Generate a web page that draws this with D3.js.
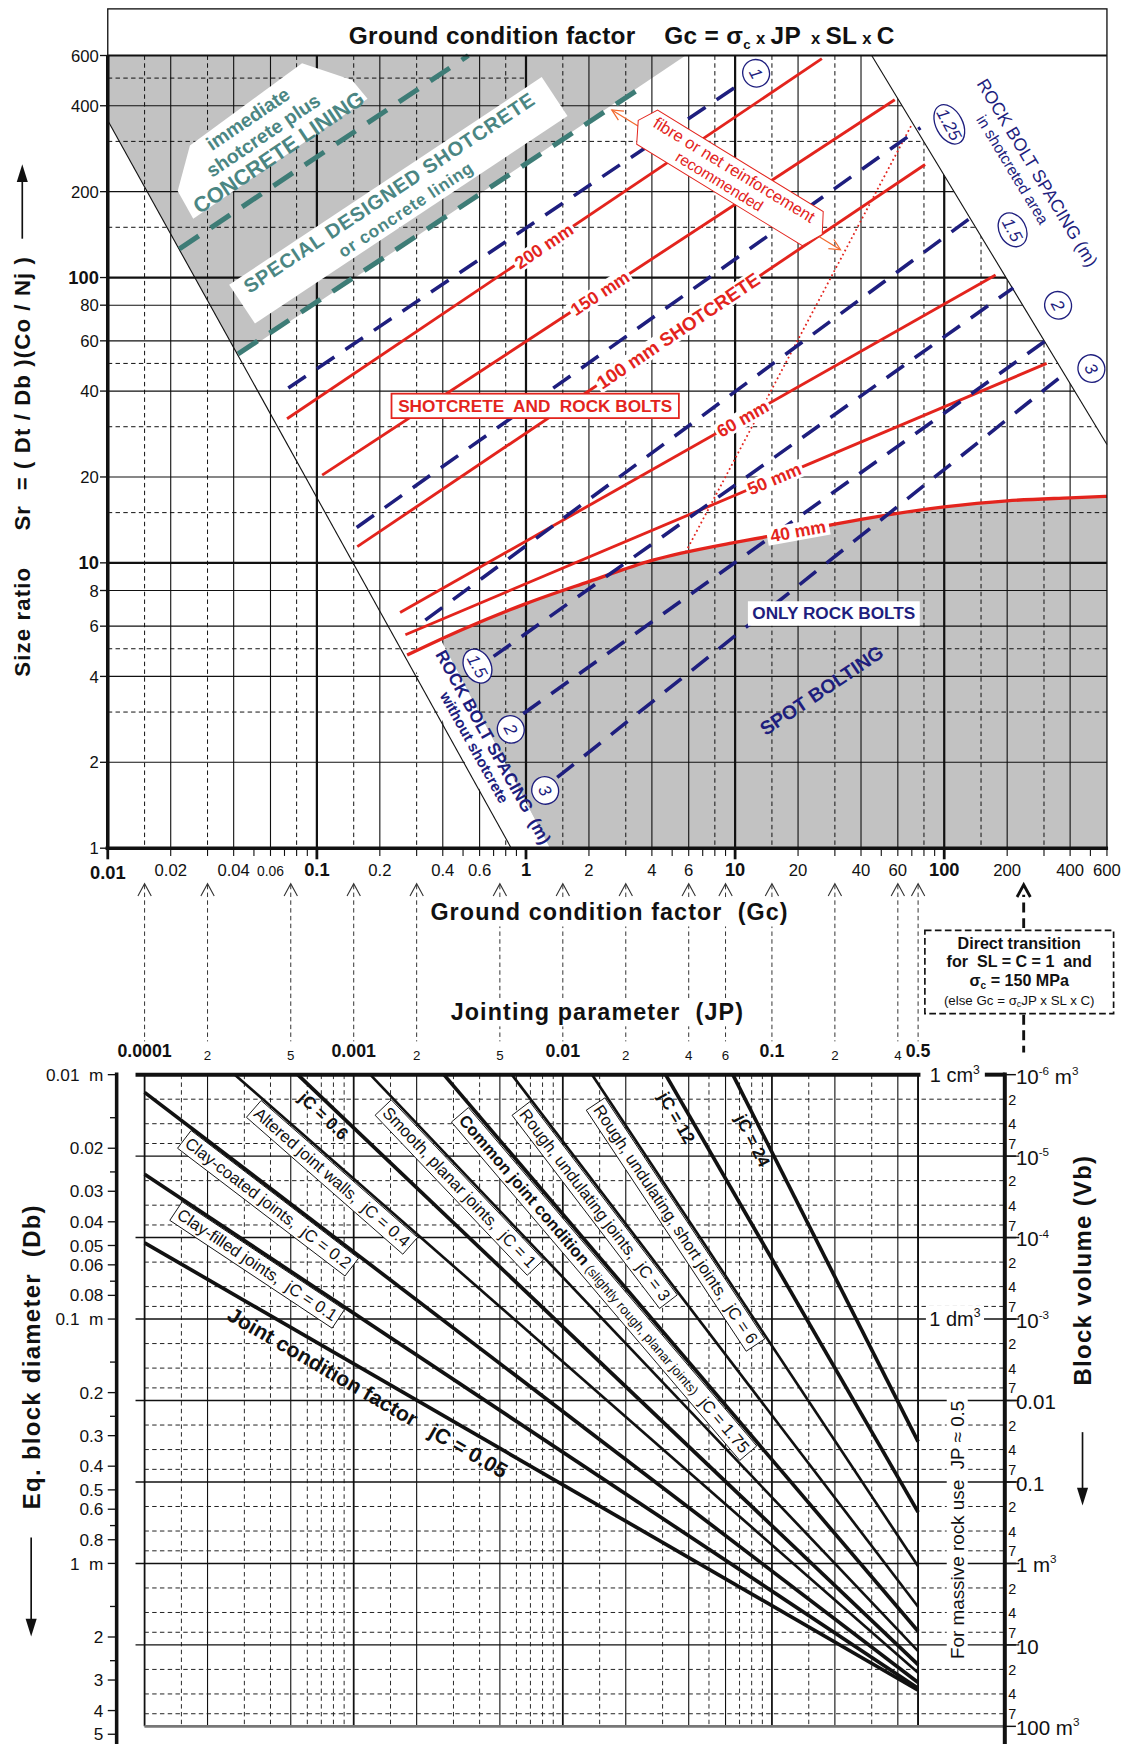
<!DOCTYPE html>
<html>
<head>
<meta charset="utf-8">
<script src="https://cdn.jsdelivr.net/npm/d3@7"></script>
<style>
  body { margin: 0; background: #fff; }
  svg { display: block; }
</style>
</head>
<body>
<script>
// ---------- data ----------
// upper chart: ground condition factor Gc (x) vs size ratio Sr (y)
const gcLabels = [0.01, 0.02, 0.04, 0.06, 0.1, 0.2, 0.4, 0.6, 1, 2, 4, 6, 10, 20, 40, 60, 100, 200, 400, 600];
const srLabels = [1, 2, 4, 6, 8, 10, 20, 40, 60, 80, 100, 200, 400, 600];

const shotcreteLines = [
  { name: '200 mm', pts: [[0.072, 32], [26, 585]] },
  { name: '150 mm', pts: [[0.106, 20.3], [58, 420]] },
  { name: '100 mm SHOTCRETE', pts: [[0.156, 11.4], [81, 249]] },
  { name: '60 mm', pts: [[0.25, 6.7], [176, 102]] },
  { name: '50 mm', pts: [[0.265, 5.6], [309, 50]] }
];
const shotcrete40 = [[0.27, 4.75], [0.5, 5.85], [1, 7.2], [2, 8.6], [4, 10.2], [10, 11.8], [20, 12.9],
                     [40, 14.2], [100, 15.7], [200, 16.5], [400, 16.9], [600, 17.1]];

const boltLines = [
  [[0.073, 41], [11.3, 493]],
  [[0.155, 13.3], [77, 335]],
  [[0.33, 6.3], [137, 164]],
  [[0.7, 4.7], [214, 92]],
  [[0.97, 2.96], [305, 60]],
  [[1.41, 1.77], [376, 46]]
];
const boltTop = ['1', '1.25', '1.5', '2', '3'];
const boltLow = ['1.5', '2', '3'];

const liningLines = [
  [[0.022, 126], [0.53, 600]],
  [[0.042, 54], [3.6, 466]]
];
const fibreLimit = [[5.8, 10.9], [70, 344]];
const boundaryLow = [[0.01, 355], [0.85, 1]];
const boundaryHigh = [[45, 600], [600, 26]];
const greyLining = [[0.01, 600], [5.8, 600], [0.042, 53], [0.01, 355]];
const greyBoltEdge = [[1.3, 1], [0.395, 5.3]];

// lower chart: jointing parameter JP (x) vs block volume Vb / diameter Db (y)
const jpLabels = [1e-4, 2e-4, 5e-4, 1e-3, 2e-3, 5e-3, 0.01, 0.02, 0.04, 0.06, 0.1, 0.2, 0.4, 0.5];
const jpMajor = [1e-4, 1e-3, 0.01, 0.1, 0.5];
const dbLabels = [0.01, 0.02, 0.03, 0.04, 0.05, 0.06, 0.08, 0.1, 0.2, 0.3, 0.4, 0.5, 0.6, 0.8, 1, 2, 3, 4, 5];
const dbMinor = [0.015, 0.025, 0.07, 0.15, 0.25, 0.7, 1.5, 2.5];
const vbDecades = [1e-6, 1e-5, 1e-4, 1e-3, 0.01, 0.1, 1, 10, 100];
const vbMinor = [2, 4, 7];

const jointLines = [
  { jC: 0.05, a: [1e-4, 1.16e-4], b: [0.5, 36] },
  { jC: 0.1,  a: [1e-4, 1.67e-5], b: [0.5, 34] },
  { jC: 0.2,  a: [1e-4, 1.65e-6], b: [0.5, 29] },
  { jC: 0.4,  a: [2.7e-4, 1e-6], b: [0.5, 22] },
  { jC: 0.6,  a: [5.4e-4, 1e-6], b: [0.5, 17.5] },
  { jC: 1,    a: [1.2e-3, 1e-6], b: [0.5, 11.9] },
  { jC: 1.75, a: [2.7e-3, 1e-6], b: [0.5, 6.8] },
  { jC: 3,    a: [5.7e-3, 1e-6], b: [0.5, 3.4] },
  { jC: 6,    a: [0.0138, 1e-6], b: [0.5, 1.08] },
  { jC: 12,   a: [0.031, 1e-6], b: [0.5, 0.235] },
  { jC: 24,   a: [0.065, 1e-6], b: [0.5, 0.032] }
];

// ---------- setup ----------
const RED = '#e3241d', NAVY = '#1e1e7e', TEAL = '#3d7c76', TEALT = '#4b8683',
      GREY = '#c2c2c2', ORANGE = '#f26a2e';
const FONT = '"Liberation Sans", Arial, Helvetica, sans-serif';

const svg = d3.select('body').append('svg')
  .attr('width', 1137).attr('height', 1753)
  .attr('viewBox', '0 0 1024 1579')
  .style('font-family', FONT);
svg.append('rect').attr('width', 1024).attr('height', 1579).attr('fill', '#fff');

const x = d3.scaleLog().domain([0.01, 600]).range([97, 997]);
const y = d3.scaleLog().domain([1, 600]).range([764, 50]);
const P = d => [x(d[0]), y(d[1])];
const path = d3.line().x(d => x(d[0])).y(d => y(d[1]));
const curve = d3.line().x(d => x(d[0])).y(d => y(d[1])).curve(d3.curveMonotoneX);

const jx = d3.scaleLog().domain([1e-4, 0.5]).range([x(0.015), x(75)]);
const vy = d3.scaleLog().domain([1e-6, 100]).range([968, 1555]);
const dby = d3.scaleLog().domain([0.01, Math.cbrt(100)]).range([968, 1555]);

function seg(g, x1, y1, x2, y2, stroke, w, dash) {
  return g.append('line').attr('x1', x1).attr('y1', y1).attr('x2', x2).attr('y2', y2)
    .attr('stroke', stroke).attr('stroke-width', w).attr('stroke-dasharray', dash || null);
}
function txt(g, xx, yy, parts, a) {
  const t = g.append('text').attr('x', xx).attr('y', yy).style('white-space', 'pre');
  Object.entries(a || {}).forEach(([k, v]) => t.attr(k, v));
  parts.forEach(p => {
    if (typeof p === 'string') p = [p, {}];
    const s = t.append('tspan').text(p[0]);
    Object.entries(p[1]).forEach(([k, v]) => s.attr(k, v));
  });
  return t;
}
function back(g, t, px, py, fill, stroke, sw) {
  const b = t.node().getBBox();
  return g.insert('rect', () => t.node())
    .attr('x', b.x - px).attr('y', b.y - py).attr('width', b.width + 2 * px).attr('height', b.height + 2 * py)
    .attr('fill', fill || '#fff').attr('stroke', stroke || 'none').attr('stroke-width', sw || 1);
}
// label rotated along a straight segment p1->p2 (pixels)
function along(g, p1, p2, t, off, parts, a, box) {
  const dx = p2[0] - p1[0], dy = p2[1] - p1[1];
  const ang = Math.atan2(dy, dx);
  const bx = p1[0] + t * dx - off * Math.sin(ang), by = p1[1] + t * dy + off * Math.cos(ang);
  const gg = g.append('g').attr('transform', `translate(${bx},${by}) rotate(${ang * 180 / Math.PI})`);
  const te = txt(gg, 0, 0, parts, Object.assign({ 'text-anchor': 'middle', dy: '0.36em' }, a));
  if (box) back(gg, te, box.px, box.py, box.fill, box.stroke, box.sw);
  return gg;
}

// ---------- upper chart ----------
const up = svg.append('g');
up.append('path').attr('d', path(greyLining) + 'Z').attr('fill', GREY);
const boltArea = [greyBoltEdge[1]].concat(shotcrete40.filter(d => d[0] > greyBoltEdge[1][0]));
up.append('path')
  .attr('d', curve(boltArea) + `L${x(600)},${y(1)}L${x(greyBoltEdge[0][0])},${y(1)}Z`)
  .attr('fill', GREY);

// grid
const grid = up.append('g');
[0.01, 0.1, 1, 10, 100].forEach(d => [1, 1.5, 2, 3, 4, 6, 8].forEach(m => {
  const v = +(d * m).toPrecision(3);
  if (v <= 0.01 || v >= 600) return;
  const major = m === 1, solid = [2, 4, 6].includes(m);
  seg(grid, x(v), 50, x(v), 764, '#111', major ? 2 : (solid ? 1 : 0.9), major || solid ? null : '4,3');
}));
[1, 10, 100].forEach(d => [1, 1.5, 2, 3, 4, 5, 6, 8].forEach(m => {
  if (d === 1 && m === 1.5) return;
  const v = d * m;
  if (v <= 1 || v >= 600) return;
  const major = m === 1, solid = [2, 4, 6, 8].includes(m);
  seg(grid, 97, y(v), v === 500 ? x(1) : 997, y(v), '#111', major ? 2 : (solid ? 1 : 0.9), major || solid ? null : '4,3');
}));

// white zones (no grid)
up.append('path').attr('d', path([boundaryHigh[0], [600, 600], boundaryHigh[1]]) + 'Z').attr('fill', '#fff');
up.append('path').attr('d', path([boundaryLow[1], greyBoltEdge[0], greyBoltEdge[1], shotcrete40[0]]) + 'Z').attr('fill', '#fff');

// boundary lines
[boundaryLow, boundaryHigh].forEach(b => up.append('path').attr('d', path(b))
  .attr('stroke', '#111').attr('stroke-width', 1).attr('fill', 'none'));

// lining (teal dashed)
liningLines.forEach(l => up.append('path').attr('d', path(l)).attr('fill', 'none')
  .attr('stroke', TEAL).attr('stroke-width', 4.5).attr('stroke-dasharray', '21,13'));

// lining labels
up.append('polygon').attr('points', '272,57 317,72 331,89 174,197 160,172 171,131').attr('fill', '#fff');
const g1 = up.append('g').attr('transform', 'translate(237,122) rotate(-34)');
txt(g1, -3, -14, ['immediate'], { 'text-anchor': 'middle', 'font-size': 17.5, 'font-weight': 'bold', fill: TEALT });
txt(g1, 0, 6, ['shotcrete plus'], { 'text-anchor': 'middle', 'font-size': 17.5, 'font-weight': 'bold', fill: TEALT });
txt(g1, 3, 27, ['CONCRETE LINING'], { 'text-anchor': 'middle', 'font-size': 19.5, 'font-weight': 'bold', fill: TEALT });

const g2 = up.append('g').attr('transform', 'translate(354,186) rotate(-33.6)');
g2.append('rect').attr('x', -162).attr('y', -23).attr('width', 338).attr('height', 42).attr('fill', '#fff');
txt(g2, 4, -6, ['SPECIAL DESIGNED SHOTCRETE'], { 'text-anchor': 'middle', 'font-size': 18, 'font-weight': 'bold', fill: TEALT, 'letter-spacing': 0.7 });
txt(g2, 8, 14, ['or concrete lining'], { 'text-anchor': 'middle', 'font-size': 15.5, 'font-weight': 'bold', fill: TEALT, 'letter-spacing': 0.7 });

// red dotted limit for fibre reinforcement
up.append('path').attr('d', path(fibreLimit)).attr('fill', 'none')
  .attr('stroke', RED).attr('stroke-width', 1.6).attr('stroke-dasharray', '1.6,2.6');

// shotcrete lines
shotcreteLines.forEach(s => up.append('path').attr('d', path(s.pts)).attr('fill', 'none')
  .attr('stroke', RED).attr('stroke-width', 2.6));
up.append('path').attr('d', curve(shotcrete40)).attr('fill', 'none').attr('stroke', RED).attr('stroke-width', 3);

// rock bolt spacing lines
boltLines.forEach(b => up.append('path').attr('d', path(b)).attr('fill', 'none')
  .attr('stroke', NAVY).attr('stroke-width', 3.2).attr('stroke-dasharray', '19,12'));

// fibre / net reinforcement annotation
const fa = [551, 99], fb = [757, 225];
seg(up, fa[0], fa[1], fb[0], fb[1], ORANGE, 1.1);
[[fa, fb], [fb, fa]].forEach(([p, q]) => {
  const ang = Math.atan2(q[1] - p[1], q[0] - p[0]);
  const h = (s) => [p[0] + 11 * Math.cos(ang + s), p[1] + 11 * Math.sin(ang + s)];
  const a1 = h(0.45), a2 = h(-0.45);
  up.append('path').attr('d', `M${a1}L${p}L${a2}`).attr('fill', 'none').attr('stroke', ORANGE).attr('stroke-width', 1.1);
});
const g3 = up.append('g').attr('transform', 'translate(657,160) rotate(31.5)');
g3.append('polygon').attr('points', '-97,-1 -87,-18 88,-18 98,0 88,18 -87,18')
  .attr('fill', '#fff').attr('stroke', RED).attr('stroke-width', 0.9);
txt(g3, 0, -3, ['fibre or net reinforcement'], { 'text-anchor': 'middle', 'font-size': 15, fill: RED });
txt(g3, -6, 12.5, ['recommended'], { 'text-anchor': 'middle', 'font-size': 14, fill: RED });

// labels on shotcrete lines
const redLab = { 'font-size': 16, 'font-weight': 'bold', fill: RED };
const redT = [0.48, 0.485, 0.565, 0.575, 0.575];
shotcreteLines.forEach((s, i) => along(up, P(s.pts[0]), P(s.pts[1]), redT[i], 0, [s.name],
  Object.assign({}, redLab, i === 2 ? { 'font-size': 17 } : {}), { px: 2, py: -1 }));
along(up, P(shotcrete40[5]), P(shotcrete40[7]), 0.5, 0, ['40 mm'], redLab, { px: 3, py: -1 });

// zone boxes
const sb = txt(up, 482, 371, ['SHOTCRETE  AND  ROCK BOLTS'], { 'text-anchor': 'middle', 'font-size': 15.5, 'font-weight': 'bold', fill: RED });
back(up, sb, 6, 2, '#fff', RED, 1.6);
const ob = txt(up, 751, 558, ['ONLY ROCK BOLTS'], { 'text-anchor': 'middle', 'font-size': 15.5, 'font-weight': 'bold', fill: NAVY });
back(up, ob, 4, 2, '#fff');
const g4 = up.append('g').attr('transform', 'translate(740,622) rotate(-34)');
txt(g4, 0, 6, ['SPOT BOLTING'], { 'text-anchor': 'middle', 'font-size': 17.5, 'font-weight': 'bold', fill: NAVY });

// rock bolt spacing captions
const lowAng = Math.atan2(y(boundaryLow[1][1]) - y(boundaryLow[0][1]), x(boundaryLow[1][0]) - x(boundaryLow[0][0])) * 180 / Math.PI;
const g5 = up.append('g').attr('transform', `translate(437,677) rotate(${lowAng})`);
txt(g5, 0, -3, ['ROCK BOLT SPACING  (m)'], { 'text-anchor': 'middle', 'font-size': 15.5, 'font-weight': 'bold', fill: NAVY });
txt(g5, -8, 11.5, ['without shotcrete'], { 'text-anchor': 'middle', 'font-size': 13.5, 'font-weight': 'bold', fill: NAVY });
const highAng = Math.atan2(y(boundaryHigh[1][1]) - y(boundaryHigh[0][1]), x(boundaryHigh[1][0]) - x(boundaryHigh[0][0])) * 180 / Math.PI;
const g6 = up.append('g').attr('transform', `translate(927,160) rotate(${highAng})`);
txt(g6, 0, -3, ['ROCK BOLT SPACING (m)'], { 'text-anchor': 'middle', 'font-size': 16, fill: NAVY });
txt(g6, -14, 14, ['in shotcreted area'], { 'text-anchor': 'middle', 'font-size': 14, fill: NAVY });

// circled spacing numbers
const topPos = [[681, 66], [855, 112], [912, 207], [953, 275], [983, 332]];
const lowPos = [[430, 600], [460, 657], [491, 712]];
function ring(lbl, p) {
  const g = up.append('g').attr('transform', `translate(${p[0]},${p[1]}) rotate(62)`);
  const rx = lbl.length > 3 ? 19 : (lbl.length > 1 ? 16 : 12.5);
  g.append('ellipse').attr('rx', rx).attr('ry', 12).attr('fill', '#fff').attr('stroke', NAVY).attr('stroke-width', 1.2);
  txt(g, 0, 5.5, [lbl], { 'text-anchor': 'middle', 'font-size': 15.5, 'font-style': 'italic', fill: NAVY });
}
boltTop.forEach((l, i) => ring(l, topPos[i]));
boltLow.forEach((l, i) => ring(l, lowPos[i]));

// frame, header, axes
up.append('rect').attr('x', 97).attr('y', 8).attr('width', 900).attr('height', 756)
  .attr('fill', 'none').attr('stroke', '#111').attr('stroke-width', 1.2);
seg(up, 97, 50, 997, 50, '#111', 2);
seg(up, 97, 50, 97, 764, '#111', 3.2);
seg(up, 95, 764, 998, 764, '#111', 3.2);
txt(up, 560, 40, [
  ['Ground condition factor', {}], ['    Gc = σ', {}], ['c', { 'font-size': 12, dy: 4 }],
  [' x ', { 'font-size': 15, dy: -4 }], ['JP', {}], ['  x ', { 'font-size': 15 }], ['SL', {}],
  [' x ', { 'font-size': 15 }], ['C', {}]
], { 'text-anchor': 'middle', 'font-size': 22, 'font-weight': 'bold', fill: '#111', 'letter-spacing': 0.3 });

srLabels.forEach(v => {
  seg(up, 90, y(v), 97, y(v), '#111', 1.2);
  const big = v === 10 || v === 100;
  txt(up, 89, y(v) + 5.5, [String(v)], { 'text-anchor': 'end', 'font-size': big ? 16.5 : 15, 'font-weight': big ? 'bold' : null, fill: '#111' });
});
[0.01, 0.1, 1, 10, 100].forEach(d => d3.range(1, 10).forEach(m => {
  const v = d * m;
  if (v > 600) return;
  seg(up, x(v), 764, x(v), m === 1 ? 774 : 771, '#111', m === 1 ? 2.5 : 1);
}));
gcLabels.forEach(v => {
  const big = [0.01, 0.1, 1, 10, 100].includes(v);
  txt(up, x(v), v === 0.01 ? 792 : 789, [String(v)], {
    'text-anchor': 'middle', 'font-size': big ? 16.5 : (v === 0.06 ? 12.5 : 15),
    'font-weight': big ? 'bold' : null, fill: '#111'
  });
});

// y axis title
const gy = up.append('g').attr('transform', 'translate(27,420) rotate(-90)');
txt(gy, 0, 0, ['Size ratio     Sr  = ( Dt / Db )(Co / Nj )'], { 'text-anchor': 'middle', 'font-size': 20, 'font-weight': 'bold', fill: '#111', 'letter-spacing': 1 });
seg(up, 20, 215, 20, 160, '#111', 1.5);
up.append('path').attr('d', 'M15,164 L20,148 L25,164 Z').attr('fill', '#111');

// ---------- middle: transfer arrows ----------
const mid = svg.append('g');
jpLabels.forEach(v => {
  const X = jx(v);
  seg(mid, X, 797, X, 938, '#333', 0.9, '4,3');
  mid.append('path').attr('d', `M${X - 6},807 L${X},796 L${X + 6},807`).attr('fill', 'none').attr('stroke', '#333').attr('stroke-width', 1);
});
const gcT = txt(mid, 549, 829, ['Ground condition factor  (Gc)'], { 'text-anchor': 'middle', 'font-size': 21, 'font-weight': 'bold', fill: '#111', 'letter-spacing': 1 });
back(mid, gcT, 3, 1);
const jpT = txt(mid, 538, 919, ['Jointing parameter  (JP)'], { 'text-anchor': 'middle', 'font-size': 21, 'font-weight': 'bold', fill: '#111', 'letter-spacing': 1 });
back(mid, jpT, 3, 1);

mid.append('rect').attr('x', 833).attr('y', 838).attr('width', 170).attr('height', 75)
  .attr('fill', '#fff').attr('stroke', '#111').attr('stroke-width', 1.5).attr('stroke-dasharray', '6,3');
const bt = { 'text-anchor': 'middle', 'font-size': 14.5, 'font-weight': 'bold', fill: '#111' };
txt(mid, 918, 855, ['Direct transition'], bt);
txt(mid, 918, 871, ['for  SL = C = 1  and'], bt);
txt(mid, 918, 888, ['σ', ['c', { 'font-size': 9, dy: 3 }], [' = 150 MPa', { dy: -3 }]], bt);
txt(mid, 918, 905, ['(else Gc = σ', ['c', { 'font-size': 8, dy: 2 }], ['JP x SL x C)', { dy: -2 }]], { 'text-anchor': 'middle', 'font-size': 12, fill: '#111' });
seg(mid, 922, 836, 922, 806, '#111', 2.6, '9,5');
mid.append('path').attr('d', 'M916,808 L922,797 L928,808').attr('fill', 'none').attr('stroke', '#111').attr('stroke-width', 2.6);
seg(mid, 922, 914, 922, 948, '#111', 2.6, '9,5');

// ---------- lower chart ----------
const lo = svg.append('g');
// vertical grid
[1e-4, 1e-3, 0.01, 0.1].forEach(d => [1, 1.5, 2, 3, 4, 5, 6, 7, 8, 9].forEach(m => {
  const v = +(d * m).toPrecision(3);
  if (v > 0.5) return;
  const lab = jpLabels.some(l => Math.abs(l - v) / v < 1e-6);
  const major = jpMajor.some(l => Math.abs(l - v) / v < 1e-6);
  seg(lo, jx(v), 968, jx(v), 1555, '#111', major ? 1.6 : (lab ? 1 : 0.8), lab ? null : '4,3');
}));
seg(lo, jx(0.5), 968, jx(0.5), 1555, '#111', 1.4);
// horizontal grid
vbDecades.forEach((d, i) => {
  if (i > 0 && i < vbDecades.length - 1) seg(lo, 122, vy(d), 918, vy(d), '#111', 1.3);
  if (d < 100) vbMinor.forEach(m => seg(lo, 130, vy(d * m), 905, vy(d * m), '#222', 0.9, '4,3'));
});
seg(lo, 130, vy(100), 905, vy(100), '#777', 2.5);

// joint condition lines
const thick = [0.05, 0.1, 0.2, 0.6, 1.75, 12, 24];
const LP = j => [[jx(j.a[0]), vy(j.a[1])], [jx(j.b[0]), vy(j.b[1])]];
jointLines.forEach(j => {
  const [p, q] = LP(j);
  seg(lo, p[0], p[1], q[0], q[1], '#111', thick.includes(j.jC) ? 3.3 : 2.4);
});

// line labels
const boxS = { px: 3, py: 1.5, fill: '#fff', stroke: '#111', sw: 0.8 };
const norm = { 'font-size': 15, fill: '#111' };
const bold = { 'font-size': 15.5, 'font-weight': 'bold', fill: '#111' };
const jl = {
  0.05: [0.30, 16, ['Joint condition factor   jC = 0.05'], { 'font-size': 19, 'font-weight': 'bold', fill: '#111' }, null],
  0.1: [0.155, 11.5, ['Clay-filled joints,  jC = 0.1'], norm, boxS],
  0.2: [0.17, 11.5, ['Clay-coated joints,  jC = 0.2'], norm, boxS],
  0.4: [0.155, 11.5, ['Altered joint walls,  jC = 0.4'], norm, boxS],
  0.6: [0.055, 10.5, ['jC = 0.6'], bold, null],
  1: [0.18, 11.5, ['Smooth, planar joints,  jC = 1'], norm, boxS],
  1.75: [0.36, 12, [['Common joint condition', { 'font-weight': 'bold' }], [' (slightly rough, planar joints)', { 'font-size': 12 }], '  jC = 1.75'], norm, boxS],
  3: [0.23, 11.5, ['Rough, undulating joints,  jC = 3'], norm, boxS],
  6: [0.29, 11.5, ['Rough, undulating, short joints,  jC = 6'], norm, boxS],
  12: [0.085, 10.5, ['jC = 12'], bold, null],
  24: [0.165, 10.5, ['jC = 24'], bold, null]
};
jointLines.forEach(j => {
  const c = jl[j.jC];
  const [p, q] = LP(j);
  along(lo, p, q, c[0], c[1], c[2], c[3], c[4]);
});

// axes
seg(lo, 105, 966, 105, 1571, '#111', 3.2);
seg(lo, 905, 966, 905, 1571, '#111', 3.6);
seg(lo, 122, 968, 829, 968, '#111', 3.6);
seg(lo, 887, 968, 905, 968, '#111', 3.6);
txt(lo, 860, 975, ['1 cm', ['3', { 'font-size': 11, dy: -8 }]], { 'text-anchor': 'middle', 'font-size': 18, fill: '#111' });
const dm = txt(lo, 860, vy(1e-3) + 6, ['1 dm', ['3', { 'font-size': 11, dy: -8 }]], { 'text-anchor': 'middle', 'font-size': 18, fill: '#111' });
back(lo, dm, 3, 0);
const gm = lo.append('g').attr('transform', 'translate(868,1378) rotate(-90)');
const mt = txt(gm, 0, 0, ['For massive rock use  JP ≈ 0.5'], { 'text-anchor': 'middle', 'font-size': 17, fill: '#111' });
back(gm, mt, 4, 0);

jpLabels.forEach(v => {
  const major = jpMajor.includes(v);
  const lab = major ? (v === 1e-4 ? '0.0001' : String(v)) : String(+(v / Math.pow(10, Math.floor(Math.log10(v) + 1e-9))).toFixed(0));
  txt(lo, jx(v), major ? 952 : 955, [lab], {
    'text-anchor': 'middle', 'font-size': major ? 16 : 12, 'font-weight': major ? 'bold' : null, fill: '#111'
  });
});

dbLabels.forEach(v => {
  seg(lo, 97, dby(v), 105, dby(v), '#111', 1.2);
  const lab = v === 0.01 ? '0.01  m' : v === 0.1 ? '0.1  m' : v === 1 ? '1  m' : String(v);
  txt(lo, 93, dby(v) + 5.5, [lab], { 'text-anchor': 'end', 'font-size': 15.5, fill: '#111' });
});
dbMinor.forEach(v => seg(lo, 99, dby(v), 105, dby(v), '#111', 1.2));

const decLab = {
  1e-6: ['10', ['-6', { 'font-size': 10.5, dy: -8 }], [' m', { dy: 8 }], ['3', { 'font-size': 10.5, dy: -8 }]],
  1e-5: ['10', ['-5', { 'font-size': 10.5, dy: -8 }]],
  1e-4: ['10', ['-4', { 'font-size': 10.5, dy: -8 }]],
  1e-3: ['10', ['-3', { 'font-size': 10.5, dy: -8 }]],
  0.01: ['0.01'], 0.1: ['0.1'],
  1: ['1 m', ['3', { 'font-size': 10.5, dy: -8 }]],
  10: ['10'],
  100: ['100 m', ['3', { 'font-size': 10.5, dy: -8 }]]
};
vbDecades.forEach(d => {
  seg(lo, 905, vy(d), 915, vy(d), '#111', 1.3);
  txt(lo, 915, vy(d) + 8, decLab[d], { 'font-size': 18.5, fill: '#111' });
  if (d < 100) vbMinor.forEach(m => txt(lo, 908, vy(d * m) + 5, [String(m)], { 'font-size': 13, fill: '#111' }));
});

// titles
const gl = lo.append('g').attr('transform', 'translate(36,1222) rotate(-90)');
txt(gl, 0, 0, ['Eq. block diameter  (Db)'], { 'text-anchor': 'middle', 'font-size': 21.5, 'font-weight': 'bold', fill: '#111', 'letter-spacing': 1.2 });
seg(lo, 28, 1385, 28, 1462, '#111', 1.5);
lo.append('path').attr('d', 'M23,1458 L28,1474 L33,1458 Z').attr('fill', '#111');
const gr = lo.append('g').attr('transform', 'translate(983,1144) rotate(-90)');
txt(gr, 0, 0, ['Block volume (Vb)'], { 'text-anchor': 'middle', 'font-size': 21.5, 'font-weight': 'bold', fill: '#111', 'letter-spacing': 1.2 });
seg(lo, 975, 1290, 975, 1342, '#111', 1.5);
lo.append('path').attr('d', 'M970,1340 L975,1356 L980,1340 Z').attr('fill', '#111');
</script>
</body>
</html>
